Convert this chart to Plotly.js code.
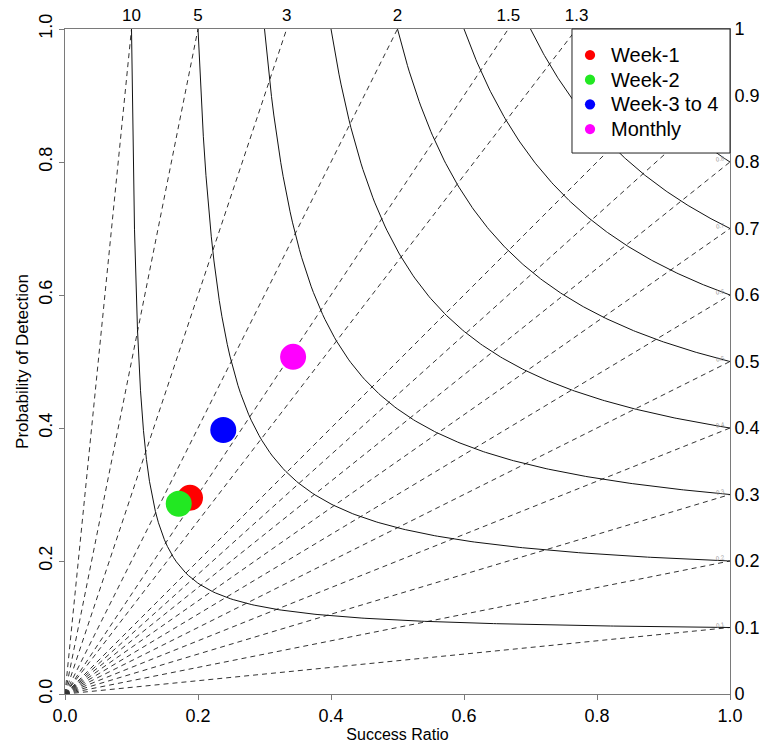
<!DOCTYPE html>
<html><head><meta charset="utf-8">
<script src="https://cdn.plot.ly/plotly-3.0.1.min.js"></script>
<style>html,body{margin:0;padding:0;background:#fff}</style></head>
<body>
<div id="chart" style="width:770px;height:744px"></div>
<script>
// Data points
const seriesNames = ["Week-1", "Week-2", "Week-3 to 4", "Monthly"];
const successRatio = [0.188, 0.171, 0.238, 0.343];
const probDetection = [0.295, 0.286, 0.397, 0.507];
const seriesColors = ["#ff0000", "#22e822", "#0000ff", "#ff00ff"];

// Diagram reference lines
const csiLevels = [0.1, 0.2, 0.3, 0.4, 0.5, 0.6, 0.7, 0.8, 0.9];
const biasLevels = [0.1, 0.2, 0.3, 0.4, 0.5, 0.6, 0.7, 0.8, 0.9, 1, 1.3, 1.5, 2, 3, 5, 10];
const topBiasValues = [10, 5, 3, 2, 1.5, 1.3];
const topBiasLabels = ["10", "5", "3", "2", "1.5", "1.3"];
const rightTickVals = [0, 0.1, 0.2, 0.3, 0.4, 0.5, 0.6, 0.7, 0.8, 0.9, 1];
const rightTickText = ["0", "0.1", "0.2", "0.3", "0.4", "0.5", "0.6", "0.7", "0.8", "0.9", "1"];
const axisTickVals = [0, 0.2, 0.4, 0.6, 0.8, 1.0];
const axisTickText = ["0.0", "0.2", "0.4", "0.6", "0.8", "1.0"];

const FONT = "Liberation Sans, Arial, sans-serif";
const AXC = "#7a7a7a";
const traces = [];

// Bias lines (dashed): POD = bias * SR
biasLevels.forEach(b => {
  const xEnd = b > 1 ? 1 / b : 1;
  const yEnd = b > 1 ? 1 : b;
  traces.push({x: [0, xEnd], y: [0, yEnd], mode: "lines", type: "scatter",
    line: {color: "#333", width: 1, dash: "5px,4px"}, hoverinfo: "skip", showlegend: false});
});

// CSI curves (solid): 1/POD = 1/CSI - 1/SR + 1
csiLevels.forEach(c => {
  const xs = [], ys = [];
  const n = 200;
  for (let i = 0; i <= n; i++) {
    const sr = c + (1 - c) * i / n;
    const p = 1 / (1 / c - 1 / sr + 1);
    xs.push(sr); ys.push(Math.min(p, 1));
  }
  traces.push({x: xs, y: ys, mode: "lines", type: "scatter",
    line: {color: "#111", width: 1}, hoverinfo: "skip", showlegend: false});
});

// Data markers
seriesNames.forEach((nm, i) => {
  traces.push({x: [successRatio[i]], y: [probDetection[i]], mode: "markers", type: "scatter",
    name: nm, marker: {color: seriesColors[i], size: 26}, showlegend: false});
});
// Trace to activate top/right axes
traces.push({x: [0, 1], y: [0, 1], xaxis: "x2", yaxis: "y2", mode: "markers",
  marker: {opacity: 0}, hoverinfo: "skip", showlegend: false});

const annotations = csiLevels.slice(0, 8).map(c => ({
  x: 0.985, y: c + 0.004, xref: "x", yref: "y", text: String(c), showarrow: false,
  font: {family: FONT, size: 6, color: "#999"}, textangle: -10
}));

// Legend box (drawn manually in paper coordinates)
const shapes = [{type: "rect", xref: "paper", yref: "paper", x0: 0.7624, x1: 1, y0: 0.8135, y1: 1,
  fillcolor: "#fff", line: {color: "#222", width: 1}, layer: "above"}];
const legTop = 0.9609, legStep = 0.0371, legR = 0.0077;
seriesNames.forEach((nm, i) => {
  const yc = legTop - i * legStep;
  shapes.push({type: "circle", xref: "paper", yref: "paper",
    x0: 0.7895 - legR, x1: 0.7895 + legR, y0: yc - legR, y1: yc + legR,
    fillcolor: seriesColors[i], line: {width: 0}, layer: "above"});
  annotations.push({xref: "paper", yref: "paper", x: 0.818, y: yc, xanchor: "left", yanchor: "middle",
    text: nm, showarrow: false, font: {family: FONT, size: 20, color: "#000"}});
});

const layout = {
  width: 770, height: 744,
  margin: {l: 65, r: 40, t: 29, b: 50},
  paper_bgcolor: "#fff", plot_bgcolor: "#fff",
  font: {family: FONT, color: "#000"},
  showlegend: false,
  shapes: shapes,
  xaxis: {range: [0, 1], tickvals: axisTickVals, ticktext: axisTickText,
    showgrid: false, zeroline: false, showline: true, linecolor: AXC, linewidth: 1,
    ticks: "outside", ticklen: 5, tickcolor: AXC,
    tickfont: {family: FONT, size: 18},
    title: {text: "Success Ratio", font: {family: FONT, size: 16}, standoff: 4}},
  yaxis: {range: [0, 1], tickvals: axisTickVals, ticktext: axisTickText,
    showgrid: false, zeroline: false, showline: true, linecolor: AXC, linewidth: 1,
    ticks: "outside", ticklen: 5, tickcolor: AXC, tickangle: -90,
    tickfont: {family: FONT, size: 18},
    title: {text: "Probability of Detection", font: {family: FONT, size: 17}, standoff: 2}},
  xaxis2: {range: [0, 1], overlaying: "x", side: "top", anchor: "y",
    tickvals: topBiasValues.map(b => 1 / b), ticktext: topBiasLabels,
    showgrid: false, zeroline: false, showline: true, linecolor: AXC, linewidth: 1,
    ticks: "", tickfont: {family: FONT, size: 17}},
  yaxis2: {range: [0, 1], overlaying: "y", side: "right", anchor: "x",
    tickvals: rightTickVals, ticktext: rightTickText,
    showgrid: false, zeroline: false, showline: true, linecolor: AXC, linewidth: 1,
    ticks: "", tickfont: {family: FONT, size: 18}},
  annotations: annotations
};

Plotly.newPlot("chart", traces, layout, {displayModeBar: false, staticPlot: true});
</script>
</body></html>
